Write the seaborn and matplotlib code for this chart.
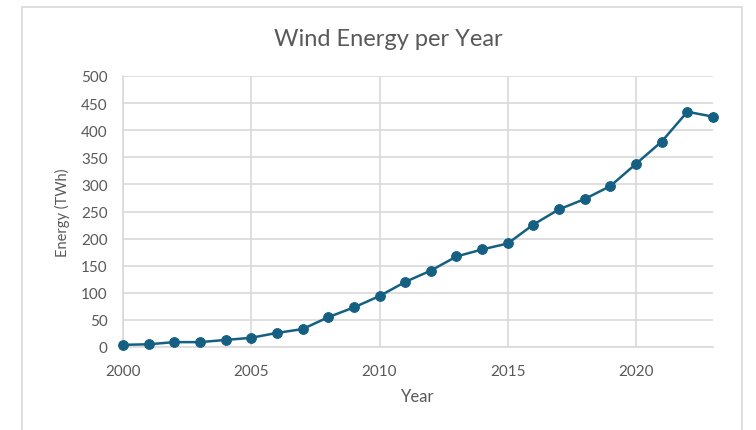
import numpy as np
import pandas as pd
import seaborn as sns
import matplotlib.pyplot as plt
from matplotlib.patches import Rectangle

# values
years = list(range(2000, 2024))
energy = [4, 5, 9, 9, 13, 17, 26, 33, 55, 73, 94, 120, 141, 167, 180, 191,
          226, 254, 273, 297, 338, 379, 434, 425]
y_ticks = list(range(0, 501, 50))
x_ticks = [2000, 2005, 2010, 2015, 2020]

df = pd.DataFrame({'Year': years, 'Energy': energy})

sns.set_style('white')
plt.rcParams['font.family'] = ['Lato', 'DejaVu Sans']

text_col = '#595959'
grid_col = '#d9d9d9'
line_col = '#156082'

fig = plt.figure(figsize=(7.56, 4.31), dpi=100)
ax = fig.add_axes([123 / 756, 1 - 348 / 431, (713 - 123) / 756, (348 - 77) / 431])

# outer chart frame
fig.patches.append(Rectangle((22 / 756, -0.05), (742 - 22) / 756, 1.05 - 8 / 431,
                             transform=fig.transFigure, fill=False,
                             edgecolor=grid_col, linewidth=1.2))

sns.lineplot(data=df, x='Year', y='Energy', ax=ax, color=line_col, linewidth=1.8,
             marker='o', markersize=7, markeredgecolor=line_col, clip_on=False, zorder=3)

ax.set_xlim(2000, 2023)
ax.set_ylim(0, 500)
ax.set_xticks(x_ticks)
ax.set_yticks(y_ticks)
ax.grid(True, color=grid_col, linewidth=1.2)
ax.set_axisbelow(True)
for s in ['top', 'right']:
    ax.spines[s].set_visible(False)
ax.spines['left'].set_color(grid_col)
ax.spines['bottom'].set_color(grid_col)
ax.spines['left'].set_linewidth(1.2)
ax.spines['bottom'].set_linewidth(1.2)
ax.tick_params(axis='both', length=0, labelsize=11, labelcolor=text_col)
ax.tick_params(axis='y', pad=11)
ax.tick_params(axis='x', pad=12)

ax.set_xlabel('Year', fontsize=12, color=text_col, va='center')
ax.xaxis.set_label_coords(0.5, -(397 - 348) / 271)
ax.set_ylabel('Energy (TWh)', fontsize=10.5, color=text_col, va='center')
ax.yaxis.set_label_coords(-(123 - 62) / 590, 0.5)

fig.text(388 / 756, 1 - 40 / 431, 'Wind Energy per Year', fontsize=17,
         color=text_col, ha='center', va='center')

fig.savefig('out.png', dpi=100)
